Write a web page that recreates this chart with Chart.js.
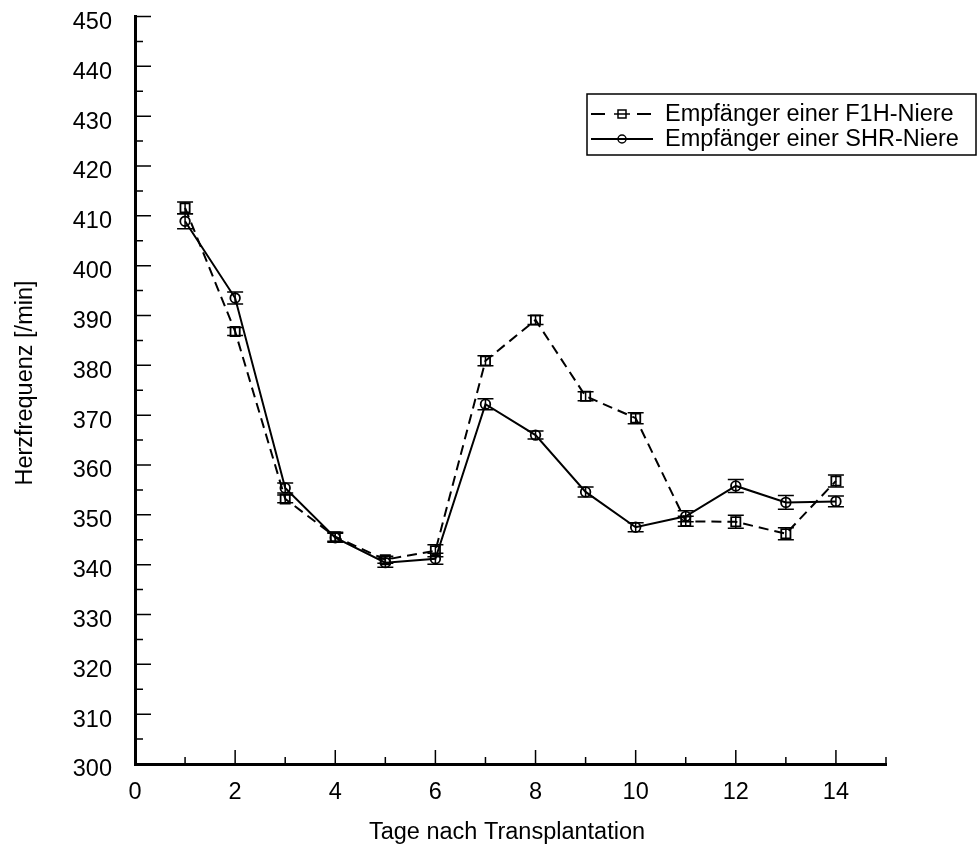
<!DOCTYPE html>
<html>
<head>
<meta charset="utf-8">
<script src="https://cdn.jsdelivr.net/npm/chart.js@4.4.1/dist/chart.umd.min.js"></script>
<style>
  body { margin: 0; background: #fff; }
  #wrap { width: 979px; height: 849px; }
</style>
</head>
<body>
<div id="wrap"><canvas id="myChart"></canvas></div>
<script>
const days = [1, 2, 3, 4, 5, 6, 7, 8, 9, 10, 11, 12, 13, 14];
const f1hValues = [411.6, 386.8, 353.2, 345.6, 341.0, 342.8, 380.9, 389.1, 373.8, 369.4, 348.7, 348.6, 346.2, 356.8];
const f1hErrors = [1.2, 0.8, 0.8, 0.9, 0.7, 1.2, 1.0, 0.9, 0.9, 1.1, 1.0, 1.3, 1.2, 1.2];
const shrValues = [408.9, 393.5, 355.4, 345.4, 340.4, 341.2, 372.2, 366.0, 354.6, 347.5, 349.7, 355.8, 352.5, 352.7];
const shrErrors = [1.5, 1.2, 1.0, 0.9, 0.9, 1.1, 1.1, 0.8, 1.0, 0.9, 1.1, 1.3, 1.4, 1.1];
const xTickValues = [0, 2, 4, 6, 8, 10, 12, 14];
const yTickValues = [300, 310, 320, 330, 340, 350, 360, 370, 380, 390, 400, 410, 420, 430, 440, 450];
const seriesNames = ["Empfänger einer F1H-Niere", "Empfänger einer SHR-Niere"];
const xTitle = "Tage nach Transplantation";
const yTitle = "Herzfrequenz [/min]";

const FONT = '"Liberation Sans", Arial, Helvetica, sans-serif';
Chart.defaults.font.family = FONT;
Chart.defaults.font.size = 23.5;
Chart.defaults.color = '#000';

function points(vals) {
  return days.map((d, i) => ({ x: d, y: vals[i] }));
}

// error bars, drawn through the scales
const errorBars = {
  id: 'errorBars',
  afterDatasetsDraw(chart) {
    const ctx = chart.ctx;
    const xs = chart.scales.x, ys = chart.scales.y;
    ctx.save();
    ctx.strokeStyle = '#000';
    ctx.lineWidth = 1.5;
    ctx.setLineDash([]);
    chart.data.datasets.forEach(ds => {
      ds.data.forEach((p, i) => {
        const px = xs.getPixelForValue(p.x);
        const top = ys.getPixelForValue(p.y + ds.errors[i]);
        const bot = ys.getPixelForValue(p.y - ds.errors[i]);
        ctx.beginPath();
        ctx.moveTo(px, top); ctx.lineTo(px, bot);
        ctx.moveTo(px - 8, top); ctx.lineTo(px + 8, top);
        ctx.moveTo(px - 8, bot); ctx.lineTo(px + 8, bot);
        ctx.stroke();
      });
    });
    ctx.restore();
  }
};

// inward ticks, axis titles and the boxed legend
const decorations = {
  id: 'decorations',
  afterDraw(chart) {
    const { ctx, chartArea: a, scales: { x, y } } = chart;
    ctx.save();
    ctx.strokeStyle = '#000';
    ctx.lineWidth = 1.5;
    ctx.beginPath();
    for (let v = y.min; v <= y.max; v += 5) {
      const py = y.getPixelForValue(v);
      const len = v % 10 === 0 ? 16 : 8;
      ctx.moveTo(a.left, py); ctx.lineTo(a.left + len, py);
    }
    for (let v = x.min; v <= x.max; v += 1) {
      const px = x.getPixelForValue(v);
      const len = v % 2 === 0 ? 14 : 7;
      ctx.moveTo(px, a.bottom); ctx.lineTo(px, a.bottom - len);
    }
    ctx.stroke();

    ctx.fillStyle = '#000';
    ctx.font = '23.5px ' + FONT;
    ctx.textAlign = 'center';
    ctx.textBaseline = 'alphabetic';
    ctx.fillText(xTitle, 507, 839);
    ctx.save();
    ctx.translate(32, 383);
    ctx.rotate(-Math.PI / 2);
    ctx.fillText(yTitle, 0, 0);
    ctx.restore();

    // legend
    ctx.lineWidth = 1.5;
    ctx.strokeRect(587, 94, 389, 61);
    const rows = [114, 139];
    ctx.textAlign = 'left';
    ctx.textBaseline = 'middle';
    rows.forEach((ry, i) => {
      const ds = chart.data.datasets[i];
      ctx.lineWidth = 2;
      ctx.beginPath();
      if (i === 0) {
        ctx.moveTo(591, ry); ctx.lineTo(605, ry);
        ctx.moveTo(637, ry); ctx.lineTo(651, ry);
      } else {
        ctx.moveTo(591, ry); ctx.lineTo(653, ry);
      }
      ctx.stroke();
      ctx.lineWidth = 1.5;
      ctx.beginPath();
      if (i === 0) {
        ctx.rect(618, ry - 4, 8, 8);
        ctx.moveTo(614, ry); ctx.lineTo(630, ry);
      } else {
        ctx.arc(622, ry, 4, 0, Math.PI * 2);
      }
      ctx.stroke();
      ctx.fillText(ds.label, 665, ry + 1);
    });
    ctx.restore();
  }
};

new Chart(document.getElementById('myChart'), {
  type: 'line',
  data: {
    datasets: [
      {
        label: seriesNames[0],
        data: points(f1hValues),
        errors: f1hErrors,
        borderColor: '#000',
        borderWidth: 2,
        borderDash: [10, 6],
        pointStyle: 'rect',
        pointRadius: 6.5,
        pointBorderWidth: 1.8,
        pointBorderColor: '#000',
        pointBackgroundColor: 'rgba(0,0,0,0)',
        tension: 0
      },
      {
        label: seriesNames[1],
        data: points(shrValues),
        errors: shrErrors,
        borderColor: '#000',
        borderWidth: 2,
        pointStyle: 'circle',
        pointRadius: 4.8,
        pointBorderWidth: 1.8,
        pointBorderColor: '#000',
        pointBackgroundColor: 'rgba(0,0,0,0)',
        tension: 0
      }
    ]
  },
  options: {
    responsive: true,
    maintainAspectRatio: false,
    animation: false,
    layout: { padding: { left: 0, top: 16.5, right: 93, bottom: 0 } },
    plugins: {
      legend: { display: false },
      tooltip: { enabled: false }
    },
    scales: {
      x: {
        type: 'linear',
        min: 0,
        max: 15,
        afterBuildTicks: s => { s.ticks = xTickValues.map(v => ({ value: v })); },
        afterFit: s => { s.height = 85; s.paddingLeft = 0; s.paddingRight = 0; },
        ticks: { padding: 14, color: '#000' },
        grid: { display: true, drawOnChartArea: false, drawTicks: false },
        border: { display: true, color: '#000', width: 3 }
      },
      y: {
        min: 300,
        max: 450,
        afterBuildTicks: s => { s.ticks = yTickValues.map(v => ({ value: v })); },
        afterFit: s => { s.width = 135; s.paddingTop = 0; s.paddingBottom = 0; },
        ticks: { padding: 23, labelOffset: 6, color: '#000' },
        grid: { display: true, drawOnChartArea: false, drawTicks: false },
        border: { display: true, color: '#000', width: 3 }
      }
    }
  },
  plugins: [errorBars, decorations]
});
</script>
</body>
</html>
